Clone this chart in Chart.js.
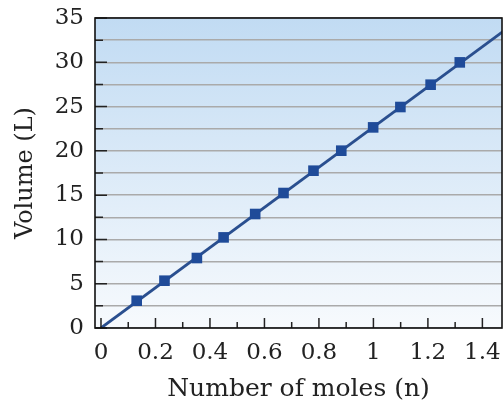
<!DOCTYPE html>
<html>
<head>
<meta charset="utf-8">
<script src="https://cdn.jsdelivr.net/npm/chart.js@4/dist/chart.umd.min.js"></script>
<style>
  html, body { margin: 0; padding: 0; background: #fff; }
  #wrap { width: 504px; height: 400px; }
</style>
</head>
<body>
<div id="wrap"><canvas id="gasChart"></canvas></div>
<script>
// measured points (moles vs litres)
var moles = [0.131, 0.233, 0.352, 0.45, 0.566, 0.67, 0.78, 0.882, 0.999, 1.099, 1.21, 1.317];
var volume = [3.08, 5.34, 7.9, 10.23, 12.87, 15.24, 17.76, 20.02, 22.65, 24.95, 27.47, 29.99];

// best-fit line through the origin
var fitX = [0, 1.6];
var fitY = [0, 36.3];

var xTicks = [0, 0.1, 0.2, 0.3, 0.4, 0.5, 0.6, 0.7, 0.8, 0.9, 1, 1.1, 1.2, 1.3, 1.4];
var xLabels = ['0', '', '0.2', '', '0.4', '', '0.6', '', '0.8', '', '1', '', '1.2', '', '1.4'];
var yTicks = [0, 2.5, 5, 7.5, 10, 12.5, 15, 17.5, 20, 22.5, 25, 27.5, 30, 32.5, 35];
var yLabels = ['0', '', '5', '', '10', '', '15', '', '20', '', '25', '', '30', '', '35'];

var serif = "'DejaVu Serif', serif";
var blue = '#1f4b99';

function toPoints(xs, ys) {
  return xs.map(function (x, i) { return { x: x, y: ys[i] }; });
}

var plotBackground = {
  id: 'plotBackground',
  beforeDraw: function (chart) {
    var a = chart.chartArea, ctx = chart.ctx;
    var g = ctx.createLinearGradient(0, a.top, 0, a.bottom);
    g.addColorStop(0, '#c1dbf3');
    g.addColorStop(1, '#f7fafd');
    ctx.save();
    ctx.fillStyle = g;
    ctx.fillRect(a.left, a.top, a.right - a.left, a.bottom - a.top);
    ctx.restore();
  }
};

// inward tick marks plus the frame
var frameTicks = {
  id: 'frameTicks',
  afterDraw: function (chart) {
    var a = chart.chartArea, ctx = chart.ctx;
    var xs = chart.scales.x, ys = chart.scales.y;
    ctx.save();
    ctx.strokeStyle = '#222';
    ctx.lineWidth = 1.5;
    ctx.beginPath();
    xTicks.forEach(function (v, i) {
      var px = xs.getPixelForValue(v);
      var len = xLabels[i] ? 10 : 6;
      ctx.moveTo(px, a.bottom);
      ctx.lineTo(px, a.bottom - len);
    });
    yTicks.forEach(function (v, i) {
      var py = ys.getPixelForValue(v);
      var len = yLabels[i] ? 12 : 8;
      ctx.moveTo(a.left, py);
      ctx.lineTo(a.left + len, py);
    });
    ctx.stroke();
    ctx.lineWidth = 1.6;
    ctx.strokeStyle = '#111';
    ctx.strokeRect(a.left, a.top, a.right - a.left, a.bottom - a.top);
    ctx.restore();
  }
};

function noPad(scale) {
  scale.paddingTop = 0;
  scale.paddingBottom = 0;
  scale.paddingLeft = 0;
  scale.paddingRight = 0;
}

var gasChart = new Chart(document.getElementById('gasChart'), {
  type: 'scatter',
  data: {
    datasets: [{
      label: 'fit',
      type: 'line',
      data: toPoints(fitX, fitY),
      borderColor: '#2a4f8f',
      borderWidth: 2.8,
      pointRadius: 0,
      fill: false,
      order: 2
    }, {
      label: 'measured',
      data: toPoints(moles, volume),
      pointStyle: 'rect',
      pointRadius: 7.5,
      backgroundColor: blue,
      borderColor: blue,
      borderWidth: 0,
      order: 1
    }]
  },
  options: {
    responsive: true,
    maintainAspectRatio: false,
    animation: false,
    layout: { autoPadding: false, padding: { top: 18, right: 2, left: 0, bottom: 0 } },
    plugins: {
      legend: { display: false },
      tooltip: { enabled: false }
    },
    scales: {
      x: {
        type: 'linear',
        min: -0.022,
        max: 1.472,
        afterBuildTicks: function (scale) {
          scale.ticks = xTicks.map(function (v) { return { value: v }; });
        },
        afterFit: function (scale) { scale.height = 72; noPad(scale); },
        grid: { display: false },
        border: { display: false },
        ticks: {
          autoSkip: false,
          maxRotation: 0,
          padding: 3,
          color: '#222',
          font: { family: serif, size: 23 },
          callback: function (v, i) { return xLabels[i]; }
        },
        title: {
          display: true,
          text: 'Number of moles (n)',
          color: '#222',
          font: { family: serif, size: 25, lineHeight: 0.85 },
          padding: { top: 0, bottom: 0 }
        }
      },
      y: {
        type: 'linear',
        min: 0,
        max: 35,
        afterBuildTicks: function (scale) {
          scale.ticks = yTicks.map(function (v) { return { value: v }; });
        },
        afterFit: function (scale) { scale.width = 95; noPad(scale); },
        grid: { color: '#aaaaaa', lineWidth: 1.4, drawTicks: false },
        border: { display: false },
        ticks: {
          autoSkip: false,
          padding: 11,
          color: '#222',
          font: { family: serif, size: 23 },
          callback: function (v, i) { return yLabels[i]; }
        },
        title: {
          display: true,
          text: 'Volume (L)',
          color: '#222',
          font: { family: serif, size: 24, lineHeight: 1 },
          padding: { top: 14, bottom: 0 }
        }
      }
    }
  },
  plugins: [plotBackground, frameTicks]
});
</script>
</body>
</html>
